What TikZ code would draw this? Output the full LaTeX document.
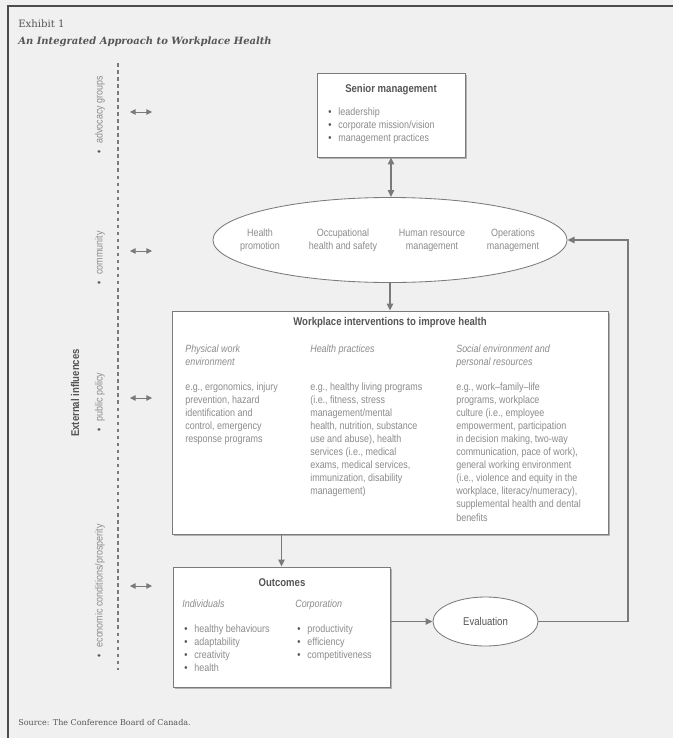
\documentclass[tikz,border=0pt]{standalone}
\usepackage{fontspec}
\setmainfont{Liberation Sans}[FakeStretch=0.85]
\newfontfamily\slabfont{DejaVu Serif}
\usetikzlibrary{shapes.geometric,shadows,arrows.meta}

\definecolor{paper}{HTML}{F0F0F0}
\definecolor{ink}{HTML}{8C8C8C}
\definecolor{darkink}{HTML}{555555}
\definecolor{rule}{HTML}{7A7A7A}

\newcommand{\bul}{{\color{darkink}\textbullet}\hspace{5pt}}

\begin{document}
\begin{tikzpicture}[x=0.025cm, y=-0.025cm,
    txt/.style={font=\fontsize{7.5}{9.25}\selectfont, text=ink, inner sep=0pt, align=left},
    cat/.style={txt, font=\fontsize{7.5}{9.25}\selectfont\itshape},
    head/.style={font=\fontsize{8}{10}\selectfont\bfseries, text=darkink, inner sep=0pt},
    box/.style={draw=rule, fill=white, line width=0.6pt, inner sep=0pt,
        drop shadow={shadow xshift=1.5pt, shadow yshift=-1.5pt, fill=gray!60, opacity=1}},
    oval/.style={ellipse, draw=rule, fill=white, line width=0.6pt, inner sep=0pt},
    link/.style={draw=rule, line width=1.3pt, -{Triangle[length=5pt,width=4.5pt]}},
    infl/.style={txt, rotate=90, anchor=center},
]

% Background and frame
\useasboundingbox (0,0) rectangle (673,738);
\fill[paper] (0,0) rectangle (673,738);
\draw[line width=1.4pt, black!70] (8,738) -- (8,6) -- (673,6);

% Title
\node[anchor=west, inner sep=0pt, text=darkink, font=\slabfont\fontsize{7.2}{9}\selectfont] (exhibit) at (18,24) {Exhibit 1};
\node[anchor=west, inner sep=0pt, text=darkink, font=\slabfont\fontsize{7.1}{9}\selectfont\bfseries\itshape] (title) at (18,42) {An Integrated Approach to Workplace Health};

% Senior management
\node[box, minimum width=3.7cm, minimum height=2.1cm] (senior) at (391,115) {};
\node[head] (seniorhead) at (391,90) {Senior management};
\node[txt, anchor=north west] (seniorlist) at (328,108) {\bul leadership\\ \bul corporate mission/vision\\ \bul management practices};

% Disciplines
\node[oval, minimum width=8.85cm, minimum height=2.125cm] (disciplines) at (390,240) {};
\node[txt, align=center] (promotion) at (260,240) {Health\\ promotion};
\node[txt, align=center] (safety) at (343,240) {Occupational\\ health and safety};
\node[txt, align=center] (hr) at (432,240) {Human resource\\ management};
\node[txt, align=center] (operations) at (513,240) {Operations\\ management};

% Workplace interventions
\node[box, minimum width=10.9cm, minimum height=5.575cm] (interventions) at (390,422.5) {};
\node[head] (interhead) at (390,323) {Workplace interventions to improve health};
\node[cat, anchor=north west] (physical) at (185,345) {Physical work\\ environment};
\node[cat, anchor=north west] (practices) at (310,345) {Health practices};
\node[cat, anchor=north west] (social) at (456,345) {Social environment and\\ personal resources};
\node[txt, anchor=north west] (physicaltxt) at (185,383) {e.g., ergonomics, injury\\ prevention, hazard\\ identification and\\ control, emergency\\ response programs};
\node[txt, anchor=north west] (practicestxt) at (310,383) {e.g., healthy living programs\\ (i.e., fitness, stress\\ management/mental\\ health, nutrition, substance\\ use and abuse), health\\ services (i.e., medical\\ exams, medical services,\\ immunization, disability\\ management)};
\node[txt, anchor=north west] (socialtxt) at (456,383) {e.g., work--family--life\\ programs, workplace\\ culture (i.e., employee\\ empowerment, participation\\ in decision making, two-way\\ communication, pace of work),\\ general working environment\\ (i.e., violence and equity in the\\ workplace, literacy/numeracy),\\ supplemental health and dental\\ benefits};

% Outcomes
\node[box, minimum width=5.425cm, minimum height=3cm] (outcomes) at (281.5,627) {};
\node[head] (outhead) at (282,583) {Outcomes};
\node[cat, anchor=north west] (individuals) at (182,600) {Individuals};
\node[cat, anchor=north west] (corporation) at (295,600) {Corporation};
\node[txt, anchor=north west] (indlist) at (184,625) {\bul healthy behaviours\\ \bul adaptability\\ \bul creativity\\ \bul health};
\node[txt, anchor=north west] (corplist) at (297,625) {\bul productivity\\ \bul efficiency\\ \bul competitiveness};

% Evaluation
\node[oval, minimum width=2.625cm, minimum height=1.225cm, text=darkink, font=\fontsize{8}{10}\selectfont] (evaluation) at (485.5,621.5) {Evaluation};
\coordinate (backtop) at (628,240);

% Connectors
\draw[link, {Triangle[length=5pt,width=4.5pt]}-{Triangle[length=5pt,width=4.5pt]}] (senior.south) -- (senior.south |- disciplines.north);
\draw[link] (disciplines.south) -- (interventions.north);
\draw[link] (outcomes.north |- interventions.south) -- (outcomes.north);
\draw[link] (evaluation.west -| outcomes.east) -- (evaluation.west);
\draw[link] (evaluation.east) -| (backtop) -- (disciplines.east);

% External influences
\coordinate (dashtop) at (118,63);
\coordinate (dashbot) at (118,670);
\draw[rule, line width=0.8pt, dash pattern=on 2.5pt off 2.5pt] (dashtop) -- (dashbot);
\foreach \y in {112,251,398,586} {
    \draw[rule, line width=0.6pt, {Triangle[length=4pt,width=4pt]}-{Triangle[length=4pt,width=4pt]}] (130,\y) -- (152,\y);
}
\node[infl] (advocacy) at (100,115) {\bul advocacy groups};
\node[infl] (community) at (100,258) {\bul community};
\node[infl] (policy) at (100,402) {\bul public policy};
\node[infl] (economic) at (100,591) {\bul economic conditions/prosperity};
\node[head, rotate=90] (external) at (75,393) {External influences};

% Source
\node[anchor=west, inner sep=0pt, text=darkink, font=\slabfont\fontsize{5.7}{7}\selectfont] (source) at (18,723) {Source: The Conference Board of Canada.};

\end{tikzpicture}
\end{document}
